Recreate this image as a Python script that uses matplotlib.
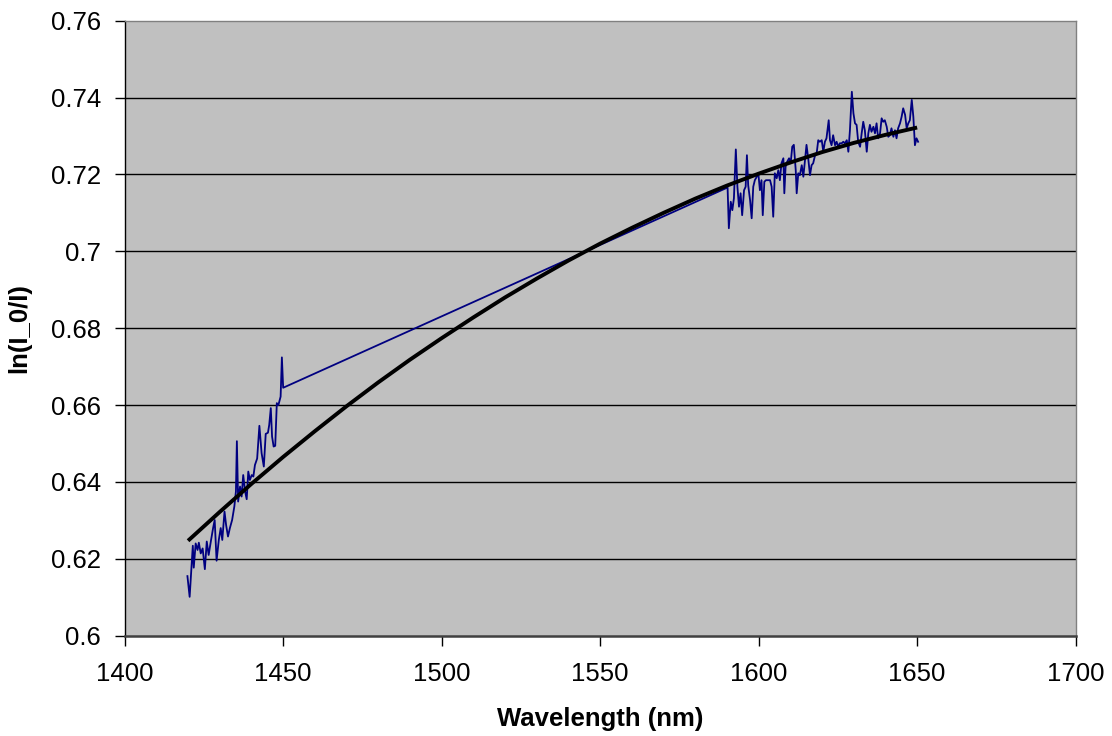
import matplotlib
matplotlib.use("Agg")
import matplotlib.pyplot as plt

# Measured absorbance, short-wavelength band
wl_short = [1419.8, 1420.5, 1421.5, 1421.8, 1422.4, 1423.0, 1423.4, 1424.0, 1424.6, 1425.3,
            1425.9, 1426.5, 1427.2, 1427.9, 1428.4, 1429.0, 1429.7, 1430.3, 1430.8, 1431.5,
            1432.0, 1432.6, 1433.2, 1433.9, 1434.6, 1435.1, 1435.4, 1435.8, 1436.4, 1436.9,
            1437.4, 1438.0, 1438.5, 1439.0, 1439.5, 1440.1, 1440.6, 1441.1, 1441.8, 1442.5,
            1443.2, 1443.9, 1444.5, 1445.2, 1445.6, 1446.1, 1446.5, 1447.0, 1447.5, 1448.0,
            1448.5, 1448.8, 1449.2, 1449.6, 1450.0]
abs_short = [0.6155, 0.6101, 0.6234, 0.6177, 0.6240, 0.6223, 0.6242, 0.6214, 0.6227, 0.6173,
             0.6245, 0.6210, 0.6246, 0.6280, 0.6301, 0.6195, 0.6249, 0.6280, 0.6249, 0.6323,
             0.6288, 0.6258, 0.6280, 0.6301, 0.6336, 0.6375, 0.6506, 0.6349, 0.6388, 0.6362,
             0.6418, 0.6375, 0.6355, 0.6427, 0.6405, 0.6418, 0.6414, 0.6444, 0.6461, 0.6546,
             0.6475, 0.6440, 0.6525, 0.6528, 0.6548, 0.6592, 0.6518, 0.6492, 0.6494, 0.6605,
             0.6600, 0.6609, 0.6622, 0.6724, 0.6645]

# Measured absorbance, long-wavelength band
wl_long = [1590.2, 1590.6, 1591.2, 1591.7, 1592.2, 1592.8, 1593.3, 1593.8, 1594.3, 1594.8,
           1595.4, 1595.9, 1596.3, 1596.7, 1597.3, 1597.8, 1598.3, 1598.8, 1599.4, 1599.9,
           1600.4, 1600.9, 1601.3, 1601.8, 1602.3, 1602.8, 1603.6, 1604.1, 1604.6, 1605.1,
           1605.7, 1606.2, 1606.7, 1607.2, 1607.8, 1608.1, 1608.5, 1609.0, 1609.6, 1610.1,
           1610.6, 1611.1, 1611.7, 1612.0, 1612.5, 1613.0, 1613.6, 1614.1, 1614.6, 1615.1,
           1615.7, 1616.2, 1616.7, 1617.2, 1617.8, 1618.3, 1618.8, 1619.3, 1619.9, 1620.4,
           1620.9, 1621.4, 1622.1, 1622.5, 1623.0, 1623.5, 1624.1, 1624.6, 1625.1, 1625.6,
           1626.2, 1626.7, 1627.2, 1627.8, 1628.3, 1628.8, 1629.4, 1629.9, 1630.4, 1630.9,
           1631.4, 1632.0, 1632.5, 1633.0, 1633.5, 1634.1, 1634.6, 1635.1, 1635.6, 1636.2,
           1636.7, 1637.2, 1637.7, 1638.3, 1638.8, 1639.3, 1639.8, 1640.4, 1640.9, 1641.4,
           1641.9, 1642.5, 1643.0, 1643.5, 1644.0, 1644.6, 1645.1, 1645.6, 1646.2, 1646.7,
           1647.2, 1647.7, 1648.3, 1648.8, 1649.3, 1649.8, 1650.3]
abs_long = [0.7166, 0.7060, 0.7129, 0.7107, 0.7138, 0.7265, 0.7168, 0.7116, 0.7151, 0.7094,
            0.7159, 0.7168, 0.7250, 0.7172, 0.7133, 0.7086, 0.7168, 0.7185, 0.7194, 0.7203,
            0.7159, 0.7185, 0.7094, 0.7181, 0.7185, 0.7185, 0.7185, 0.7168, 0.7090, 0.7203,
            0.7190, 0.7211, 0.7185, 0.7229, 0.7242, 0.7151, 0.7220, 0.7233, 0.7242, 0.7229,
            0.7272, 0.7277, 0.7211, 0.7151, 0.7203, 0.7198, 0.7224, 0.7194, 0.7237, 0.7277,
            0.7237, 0.7198, 0.7224, 0.7229, 0.7250, 0.7255, 0.7289, 0.7285, 0.7289, 0.7259,
            0.7285, 0.7294, 0.7341, 0.7289, 0.7276, 0.7302, 0.7276, 0.7285, 0.7272, 0.7281,
            0.7281, 0.7285, 0.7281, 0.7289, 0.7259, 0.7315, 0.7415, 0.7359, 0.7333, 0.7329,
            0.7285, 0.7272, 0.7307, 0.7337, 0.7315, 0.7259, 0.7307, 0.7329, 0.7311, 0.7324,
            0.7307, 0.7333, 0.7294, 0.7307, 0.7346, 0.7337, 0.7341, 0.7324, 0.7298, 0.7302,
            0.7320, 0.7298, 0.7315, 0.7294, 0.7320, 0.7333, 0.7350, 0.7372, 0.7355, 0.7320,
            0.7333, 0.7341, 0.7394, 0.7350, 0.7276, 0.7294, 0.7285]

# Fitted curve
wl_fit = [1420, 1430, 1440, 1450, 1460, 1470, 1480, 1490, 1500, 1510, 1520, 1530,
          1540, 1550, 1560, 1570, 1580, 1590, 1600, 1610, 1620, 1630, 1640, 1650]
abs_fit = [0.6247, 0.6322, 0.6395, 0.6465, 0.6532, 0.6597, 0.6659, 0.6718, 0.6774, 0.6828,
           0.6880, 0.6929, 0.6976, 0.7020, 0.7061, 0.7100, 0.7137, 0.7171, 0.7202, 0.7231,
           0.7258, 0.7282, 0.7303, 0.7322]

x_ticks = [1400, 1450, 1500, 1550, 1600, 1650, 1700]
y_ticks = [0.6, 0.62, 0.64, 0.66, 0.68, 0.7, 0.72, 0.74, 0.76]
y_tick_labels = ["0.6", "0.62", "0.64", "0.66", "0.68", "0.7", "0.72", "0.74", "0.76"]

plt.rcParams['font.family'] = ['Liberation Sans', 'DejaVu Sans']

fig = plt.figure(figsize=(11.12, 7.36), dpi=100)
ax = fig.add_axes([0.1121, 0.1363, 0.8552, 0.8356])
ax.set_facecolor('#C0C0C0')

ax.plot(wl_short + wl_long, abs_short + abs_long, color='#000080', lw=1.3, zorder=3)
ax.plot(wl_fit, abs_fit, color='black', lw=2.8, zorder=4, solid_capstyle='butt')

ax.set_xlim(1400, 1700)
ax.set_ylim(0.6, 0.76)
ax.set_xticks(x_ticks)
ax.set_yticks(y_ticks)
ax.set_yticklabels(y_tick_labels)

for y in y_ticks[1:-1]:
    ax.axhline(y, color='black', lw=1.0, zorder=1)

ax.tick_params(axis='both', direction='out', length=7, width=1.0, labelsize=18.5,
               color='black')
ax.tick_params(axis='y', pad=10)
ax.tick_params(axis='x', pad=12)

ax.spines['left'].set_color('black')
ax.spines['left'].set_linewidth(1.0)
ax.spines['bottom'].set_color('#404040')
ax.spines['bottom'].set_linewidth(1.8)
ax.spines['top'].set_color('#808080')
ax.spines['top'].set_linewidth(1.0)
ax.spines['right'].set_color('#808080')
ax.spines['right'].set_linewidth(1.0)

ax.set_xlabel('Wavelength (nm)', fontsize=18.5, fontweight='bold', labelpad=15)
ax.set_ylabel('ln(I_0/I)', fontsize=18.5, fontweight='bold', labelpad=14)

fig.savefig('out.png', dpi=100)
